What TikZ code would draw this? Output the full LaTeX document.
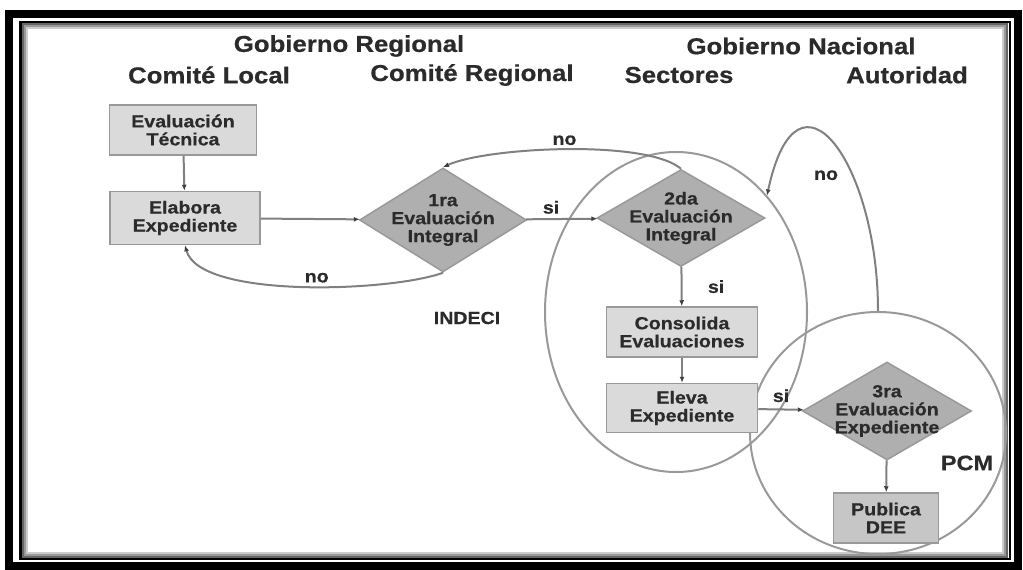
\documentclass[tikz,border=0pt]{standalone}
\usepackage{fontspec}
\setmainfont{Liberation Sans}[FakeStretch=1.12, BoldFeatures={FakeBold=0.6}]
\usetikzlibrary{shapes.geometric,arrows.meta}
\definecolor{boxgray}{HTML}{DADADA}
\definecolor{diagray}{HTML}{AFAFAF}
\definecolor{pubgray}{HTML}{C6C6C6}
\definecolor{edgegray}{HTML}{999999}
\definecolor{linegray}{HTML}{808080}
\definecolor{inkgray}{HTML}{2B2B2B}
\newcommand{\boxfont}{\fontsize{17.5pt}{18pt}\selectfont\bfseries}
\newcommand{\headfont}{\fontsize{23pt}{26pt}\selectfont\bfseries}
\tikzstyle{box} = [rectangle, draw=edgegray, line width=1.5pt, fill=boxgray, align=center, font=\boxfont, text=inkgray, inner sep=0pt]
\tikzstyle{decision} = [diamond, draw=edgegray, line width=1.5pt, fill=diagray, inner sep=0pt]
\tikzstyle{dtext} = [align=center, font=\boxfont, text=inkgray]
\tikzstyle{zone} = [ellipse, draw=edgegray, line width=2pt, inner sep=0pt]
\tikzstyle{flow} = [draw=linegray, line width=2pt, -{Latex[length=6pt,width=5pt,color=black!75]}]
\tikzstyle{lbl} = [font=\boxfont, text=inkgray]
\tikzstyle{head} = [font=\headfont, text=inkgray]

\begin{document}
\begin{tikzpicture}[x=1pt, y=1pt]
\useasboundingbox (0,0) rectangle (1023,-570);

% frame
\draw[line width=8pt] (9,-14) rectangle (1018,-566);
\draw[line width=2.5pt] (20.5,-22) rectangle (1010,-559);
\foreach \i/\c in {0/60, 1/40, 2/20} {
    \draw[black!\c, line width=2pt] (23+2*\i,-24-2*\i) rectangle (1007-2*\i,-557+2*\i);
}

% headings
\node[head] (gobreg) at (349,-46) {Gobierno Regional};
\node[head] (gobnac) at (801,-46) {Gobierno Nacional};
\node[head] (comloc) at (209,-75) {Comité Local};
\node[head] (comreg) at (472,-75) {Comité Regional};
\node[head] (sect) at (679,-75) {Sectores};
\node[head] (autor) at (907,-75) {Autoridad};

% zones
\node[zone, minimum width=262pt, minimum height=320pt] (indeci) at (676,-312) {};
\node[zone, minimum width=256pt, minimum height=242pt] (pcm) at (878,-433) {};
\node[lbl] (indecilbl) at (467,-318) {INDECI};
\node[lbl, font=\fontsize{21pt}{22pt}\selectfont\bfseries] (pcmlbl) at (967,-463) {PCM};

% steps
\node[box, minimum width=147pt, minimum height=50pt] (tecnica) at (183,-130) {Evaluación\\Técnica};
\node[box, minimum width=150pt, minimum height=53pt] (elabora) at (185,-218) {Elabora\\Expediente};
\node[decision, minimum width=167pt, minimum height=104pt] (eval1) at (443,-220) {};
\node[dtext] (eval1txt) at (eval1) {1ra\\Evaluación\\Integral};
\node[decision, minimum width=168pt, minimum height=97pt] (eval2) at (681,-218) {};
\node[dtext] (eval2txt) at (eval2) {2da\\Evaluación\\Integral};
\node[box, minimum width=151pt, minimum height=50pt] (consolida) at (682,-332) {Consolida\\Evaluaciones};
\node[box, minimum width=151pt, minimum height=49pt] (eleva) at (682,-408) {Eleva\\Expediente};
\node[decision, minimum width=169pt, minimum height=98pt] (eval3) at (887,-411) {};
\node[dtext] (eval3txt) at (eval3) {3ra\\Evaluación\\Expediente};
\node[box, fill=pubgray, minimum width=105pt, minimum height=50pt] (publica) at (886,-518) {Publica\\DEE};

% flow
\draw[flow] (tecnica) -- (elabora);
\draw[flow] (elabora) -- (eval1);
\draw[flow] (eval1) -- node[lbl, pos=0.35, above=1pt] {si} (eval2);
\draw[flow] (eval1.south) to[out=200, in=-75, looseness=0.55] node[lbl, pos=0.45, above=0pt] {no} (elabora.south);
\draw[flow] (eval2.north) to[out=140, in=25, looseness=0.5] node[lbl, pos=0.5, above=0pt] {no} (eval1.north);
\draw[flow] (eval2) -- node[lbl, right=22pt] {si} (consolida);
\draw[flow] (consolida) -- (eleva);
\draw[flow] (eleva) -- node[lbl, above=3pt] {si} (eval3);
\draw[flow] (eval3) -- (publica);
\draw[flow] (pcm.north) to[out=90, in=78, looseness=2.35] node[lbl, pos=0.5, below=22pt, xshift=-8pt] {no} (indeci.52);
\end{tikzpicture}
\end{document}
